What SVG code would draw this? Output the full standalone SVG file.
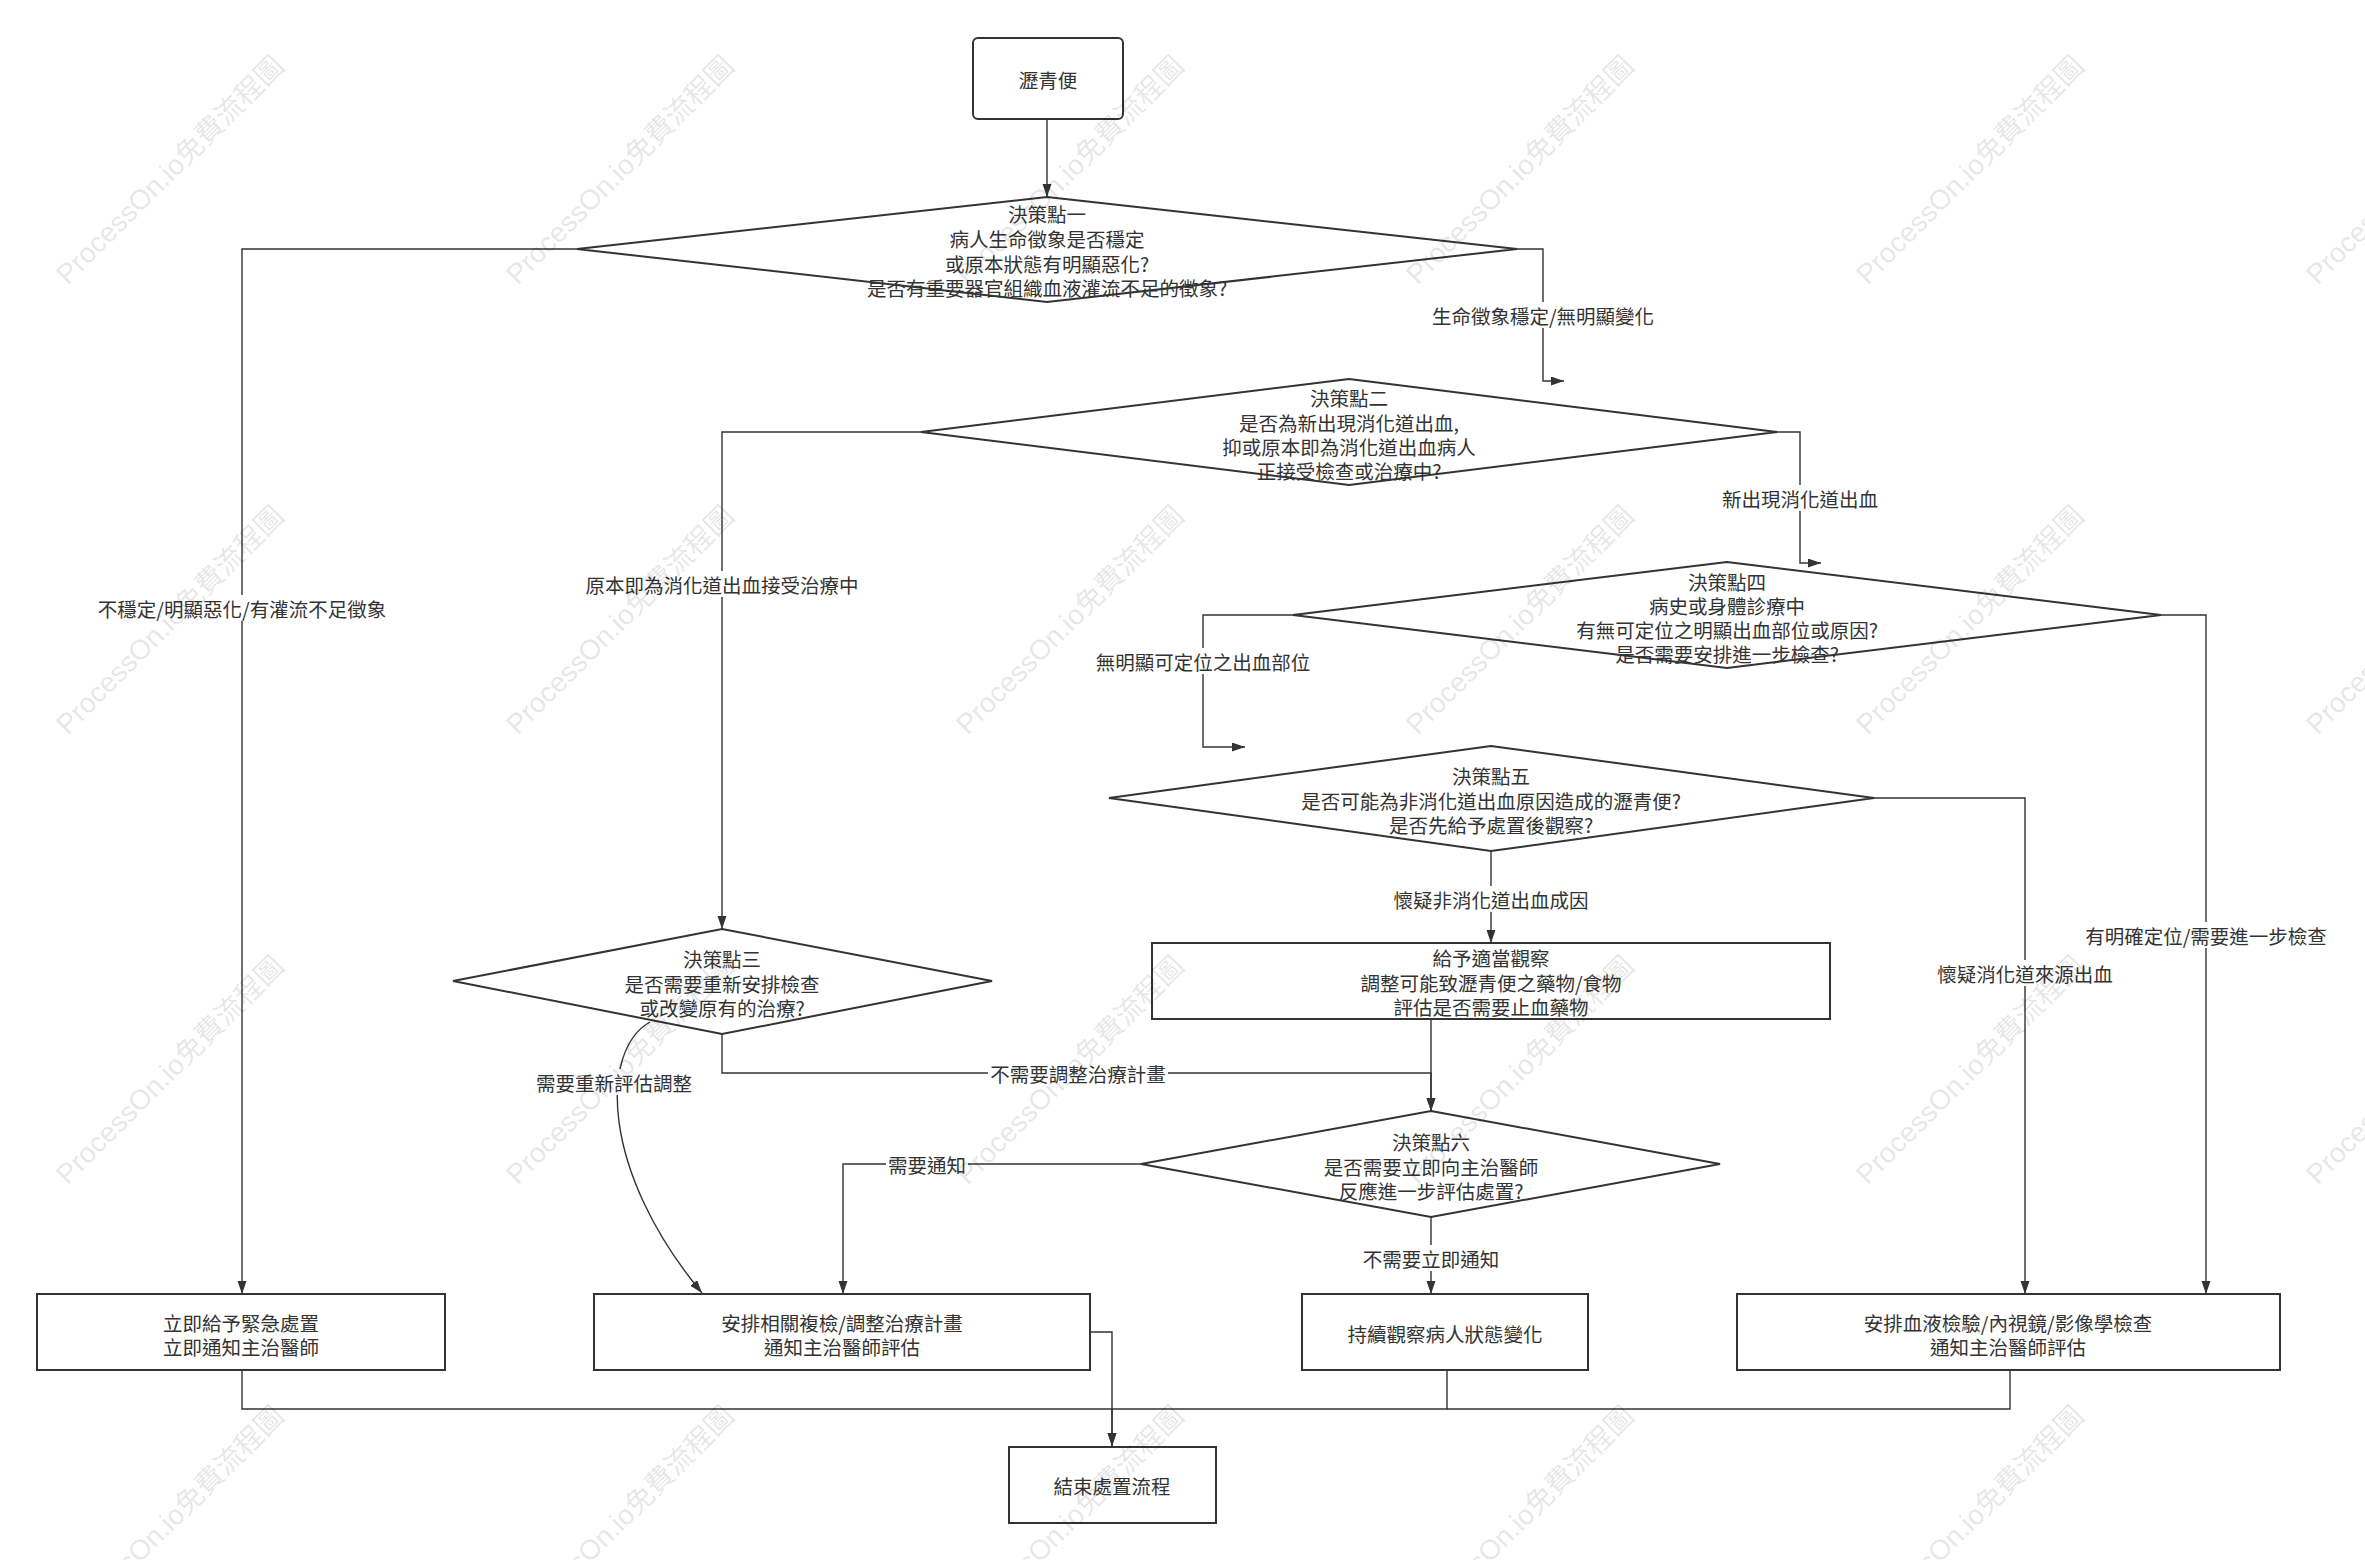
<svg xmlns="http://www.w3.org/2000/svg" width="2365" height="1560" viewBox="0 0 2365 1560">
<defs>
<style>
.node{fill:#fff;stroke:#333;stroke-width:2}
.edge{fill:none;stroke:#333;stroke-width:1.4}
.t{font-family:"Noto Sans CJK TC","Noto Sans CJK SC",sans-serif;font-size:19.5px;fill:#333;text-anchor:middle;dominant-baseline:central}
.lbg{fill:#fff;stroke:none}
.wm{font-family:"Liberation Sans","Noto Sans CJK TC",sans-serif;font-size:28px;fill:#000;fill-opacity:0.11;text-anchor:middle;dominant-baseline:central}
</style>
<marker id="arr" markerUnits="userSpaceOnUse" markerWidth="14" markerHeight="10" refX="13" refY="4.5" orient="auto">
<path d="M0,0 L13,4.5 L0,9 z" fill="#333"/>
</marker>
</defs>
<rect width="2365" height="1560" fill="#fff"/>

<g id="connectors">
<path class="edge" d="M1047,119 L1047,197" marker-end="url(#arr)"/>
<path class="edge" d="M577,249 L242,249 L242,1294" marker-end="url(#arr)"/>
<path class="edge" d="M1517,249 L1543,249 L1543,381 L1564,381" marker-end="url(#arr)"/>
<path class="edge" d="M921,432 L722,432 L722,929" marker-end="url(#arr)"/>
<path class="edge" d="M1777,432 L1800,432 L1800,563 L1821,563" marker-end="url(#arr)"/>
<path class="edge" d="M1293,615 L1203,615 L1203,747 L1245,747" marker-end="url(#arr)"/>
<path class="edge" d="M2161,615 L2206,615 L2206,1294" marker-end="url(#arr)"/>
<path class="edge" d="M1874,798 L2025,798 L2025,1294" marker-end="url(#arr)"/>
<path class="edge" d="M1491,851 L1491,943" marker-end="url(#arr)"/>
<path class="edge" d="M1431,1019 L1431,1111" marker-end="url(#arr)"/>
<path class="edge" d="M722,1034 L722,1073 L1431,1073 L1431,1111" marker-end="url(#arr)"/>
<path class="edge" d="M650,1022 C600,1050 600,1170 702,1293" marker-end="url(#arr)"/>
<path class="edge" d="M1141,1164 L843,1164 L843,1294" marker-end="url(#arr)"/>
<path class="edge" d="M1431,1217 L1431,1294" marker-end="url(#arr)"/>
<path class="edge" d="M242,1370 L242,1409 L1112,1409 L1112,1446" marker-end="url(#arr)"/>
<path class="edge" d="M1090,1332 L1112,1332 L1112,1446" marker-end="url(#arr)"/>
<path class="edge" d="M1447,1370 L1447,1409 L1112,1409"/>
<path class="edge" d="M2010,1370 L2010,1409 L1447,1409"/>

<g id="edge-labels">
<rect class="lbg" x="96" y="595" width="292" height="26"/>
<text class="t" x="242" y="608">不穩定/明顯惡化/有灌流不足徵象</text>
<rect class="lbg" x="1430" y="302" width="226" height="26"/>
<text class="t" x="1543" y="315">生命徵象穩定/無明顯變化</text>
<rect class="lbg" x="584" y="571" width="276" height="26"/>
<text class="t" x="722" y="584">原本即為消化道出血接受治療中</text>
<rect class="lbg" x="1720" y="485" width="160" height="26"/>
<text class="t" x="1800" y="498">新出現消化道出血</text>
<rect class="lbg" x="1094" y="648" width="218" height="26"/>
<text class="t" x="1203" y="661">無明顯可定位之出血部位</text>
<rect class="lbg" x="2093" y="922" width="226" height="26"/>
<text class="t" x="2206" y="935">有明確定位/需要進一步檢查</text>
<rect class="lbg" x="1935" y="960" width="180" height="26"/>
<text class="t" x="2025" y="973">懷疑消化道來源出血</text>
<rect class="lbg" x="1392" y="886" width="199" height="26"/>
<text class="t" x="1491" y="899">懷疑非消化道出血成因</text>
<rect class="lbg" x="988" y="1060" width="180" height="26"/>
<text class="t" x="1078" y="1073">不需要調整治療計畫</text>
<rect class="lbg" x="534" y="1069" width="160" height="26"/>
<text class="t" x="614" y="1082">需要重新評估調整</text>
<rect class="lbg" x="886" y="1151" width="82" height="26"/>
<text class="t" x="927" y="1164">需要通知</text>
<rect class="lbg" x="1361" y="1245" width="140" height="26"/>
<text class="t" x="1431" y="1258">不需要立即通知</text>
</g>
</g>

<g id="start">
<rect class="node" x="973" y="38" width="150" height="81" rx="5"/>
<text class="t" x="1048" y="79">瀝青便</text>
</g>

<g id="d1">
<polygon class="node" points="1047,197 1517,249 1047,302 577,249"/>
<text class="t" x="1047" y="213">決策點一</text>
<text class="t" x="1047" y="238">病人生命徵象是否穩定</text>
<text class="t" x="1047" y="263">或原本狀態有明顯惡化?</text>
<text class="t" x="1047" y="287">是否有重要器官組織血液灌流不足的徵象?</text>
</g>

<g id="d2">
<polygon class="node" points="1349,379 1777,432 1349,485 921,432"/>
<text class="t" x="1349" y="397">決策點二</text>
<text class="t" x="1349" y="422">是否為新出現消化道出血,</text>
<text class="t" x="1349" y="446">抑或原本即為消化道出血病人</text>
<text class="t" x="1349" y="470">正接受檢查或治療中?</text>
</g>

<g id="d3">
<polygon class="node" points="722,929 992,981 722,1034 453,981"/>
<text class="t" x="722" y="958">決策點三</text>
<text class="t" x="722" y="983">是否需要重新安排檢查</text>
<text class="t" x="722" y="1007">或改變原有的治療?</text>
</g>

<g id="d4">
<polygon class="node" points="1727,562 2161,615 1727,668 1293,615"/>
<text class="t" x="1727" y="581">決策點四</text>
<text class="t" x="1727" y="605">病史或身體診療中</text>
<text class="t" x="1727" y="629">有無可定位之明顯出血部位或原因?</text>
<text class="t" x="1727" y="653">是否需要安排進一步檢查?</text>
</g>

<g id="d5">
<polygon class="node" points="1491,746 1874,798 1491,851 1109,798"/>
<text class="t" x="1491" y="775">決策點五</text>
<text class="t" x="1491" y="800">是否可能為非消化道出血原因造成的瀝青便?</text>
<text class="t" x="1491" y="824">是否先給予處置後觀察?</text>
</g>

<g id="observe">
<rect class="node" x="1152" y="943" width="678" height="76"/>
<text class="t" x="1491" y="957">給予適當觀察</text>
<text class="t" x="1491" y="982">調整可能致瀝青便之藥物/食物</text>
<text class="t" x="1491" y="1006">評估是否需要止血藥物</text>
</g>

<g id="d6">
<polygon class="node" points="1431,1111 1720,1164 1431,1217 1141,1164"/>
<text class="t" x="1431" y="1141">決策點六</text>
<text class="t" x="1431" y="1166">是否需要立即向主治醫師</text>
<text class="t" x="1431" y="1190">反應進一步評估處置?</text>
</g>

<g id="emergency">
<rect class="node" x="37" y="1294" width="408" height="76"/>
<text class="t" x="241" y="1322">立即給予緊急處置</text>
<text class="t" x="241" y="1346">立即通知主治醫師</text>
</g>

<g id="recheck">
<rect class="node" x="594" y="1294" width="496" height="76"/>
<text class="t" x="842" y="1322">安排相關複檢/調整治療計畫</text>
<text class="t" x="842" y="1346">通知主治醫師評估</text>
</g>

<g id="monitor">
<rect class="node" x="1302" y="1294" width="286" height="76"/>
<text class="t" x="1445" y="1333">持續觀察病人狀態變化</text>
</g>

<g id="exam">
<rect class="node" x="1737" y="1294" width="543" height="76"/>
<text class="t" x="2008" y="1322">安排血液檢驗/內視鏡/影像學檢查</text>
<text class="t" x="2008" y="1346">通知主治醫師評估</text>
</g>

<g id="end">
<rect class="node" x="1009" y="1447" width="207" height="76"/>
<text class="t" x="1112" y="1485">結束處置流程</text>
</g>

<g id="watermark">
<text class="wm" transform="translate(170,170) rotate(-45)">ProcessOn.io免費流程圖</text>
<text class="wm" transform="translate(620,170) rotate(-45)">ProcessOn.io免費流程圖</text>
<text class="wm" transform="translate(1070,170) rotate(-45)">ProcessOn.io免費流程圖</text>
<text class="wm" transform="translate(1520,170) rotate(-45)">ProcessOn.io免費流程圖</text>
<text class="wm" transform="translate(1970,170) rotate(-45)">ProcessOn.io免費流程圖</text>
<text class="wm" transform="translate(2420,170) rotate(-45)">ProcessOn.io免費流程圖</text>
<text class="wm" transform="translate(170,620) rotate(-45)">ProcessOn.io免費流程圖</text>
<text class="wm" transform="translate(620,620) rotate(-45)">ProcessOn.io免費流程圖</text>
<text class="wm" transform="translate(1070,620) rotate(-45)">ProcessOn.io免費流程圖</text>
<text class="wm" transform="translate(1520,620) rotate(-45)">ProcessOn.io免費流程圖</text>
<text class="wm" transform="translate(1970,620) rotate(-45)">ProcessOn.io免費流程圖</text>
<text class="wm" transform="translate(2420,620) rotate(-45)">ProcessOn.io免費流程圖</text>
<text class="wm" transform="translate(170,1070) rotate(-45)">ProcessOn.io免費流程圖</text>
<text class="wm" transform="translate(620,1070) rotate(-45)">ProcessOn.io免費流程圖</text>
<text class="wm" transform="translate(1070,1070) rotate(-45)">ProcessOn.io免費流程圖</text>
<text class="wm" transform="translate(1520,1070) rotate(-45)">ProcessOn.io免費流程圖</text>
<text class="wm" transform="translate(1970,1070) rotate(-45)">ProcessOn.io免費流程圖</text>
<text class="wm" transform="translate(2420,1070) rotate(-45)">ProcessOn.io免費流程圖</text>
<text class="wm" transform="translate(170,1520) rotate(-45)">ProcessOn.io免費流程圖</text>
<text class="wm" transform="translate(620,1520) rotate(-45)">ProcessOn.io免費流程圖</text>
<text class="wm" transform="translate(1070,1520) rotate(-45)">ProcessOn.io免費流程圖</text>
<text class="wm" transform="translate(1520,1520) rotate(-45)">ProcessOn.io免費流程圖</text>
<text class="wm" transform="translate(1970,1520) rotate(-45)">ProcessOn.io免費流程圖</text>
<text class="wm" transform="translate(2420,1520) rotate(-45)">ProcessOn.io免費流程圖</text>
</g>
</svg>
